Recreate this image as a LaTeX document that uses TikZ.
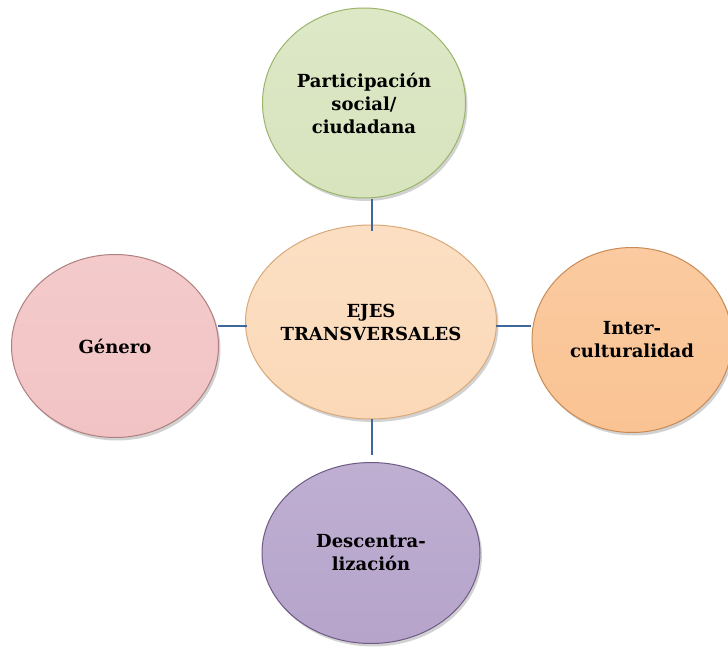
\documentclass[tikz,border=0pt]{standalone}
\usepackage{fontspec}
\setmainfont{DejaVu Serif}
\usetikzlibrary{shapes.geometric,shadows}
\definecolor{gfill}{HTML}{D7E4BD}
\definecolor{gdraw}{HTML}{9BB56A}
\definecolor{cfill}{HTML}{FBD9B8}
\definecolor{cdraw}{HTML}{D9A97A}
\definecolor{pfill}{HTML}{F2C3C4}
\definecolor{pdraw}{HTML}{B07F80}
\definecolor{ofill}{HTML}{FAC393}
\definecolor{odraw}{HTML}{C98B55}
\definecolor{vfill}{HTML}{B6A4CB}
\definecolor{vdraw}{HTML}{6E5A86}
\definecolor{link}{HTML}{3E6899}
\tikzset{
  bubble/.style={ellipse, line width=1pt, inner sep=0pt,
    drop shadow={opacity=0.35, shadow xshift=2pt, shadow yshift=-3pt}},
  btext/.style={align=center, inner sep=0pt,
    font=\bfseries\fontsize{18}{23}\selectfont},
  linkline/.style={draw=link, line width=1.6pt}
}
\begin{document}
\begin{tikzpicture}[x=1pt,y=-1pt]
\useasboundingbox[fill=white] (0,0) rectangle (728,647);
\node[bubble, draw=gdraw, top color=gfill!85!white, bottom color=gfill,
  minimum width=203pt, minimum height=190pt] (top) at (364,103) {};
\node[btext] (toptext) at (top.center) {Participación\\social/\\ciudadana};
\node[bubble, draw=cdraw, top color=cfill!85!white, bottom color=cfill,
  minimum width=251pt, minimum height=194pt] (mid) at (371,322) {};
\node[btext] (midtext) at (mid.center) {EJES\\TRANSVERSALES};
\node[bubble, draw=pdraw, top color=pfill!88!white, bottom color=pfill,
  minimum width=207pt, minimum height=183pt] (left) at (115,346) {};
\node[btext] (lefttext) at (left.center) {Género};
\node[bubble, draw=odraw, top color=ofill!88!white, bottom color=ofill,
  minimum width=200pt, minimum height=185pt] (right) at (632,340) {};
\node[btext] (righttext) at (right.center) {Inter-\\culturalidad};
\node[bubble, draw=vdraw, top color=vfill!88!white, bottom color=vfill,
  minimum width=218pt, minimum height=181pt] (bot) at (371,553) {};
\node[btext] (bottext) at (bot.center) {Descentra-\\lización};
\draw[linkline] (372,199) coordinate (t1) -- (372,231) coordinate (t2);
\draw[linkline] (218,326) coordinate (l1) -- (247,326) coordinate (l2);
\draw[linkline] (496,326) coordinate (r1) -- (531,326) coordinate (r2);
\draw[linkline] (372,419) coordinate (b1) -- (372,455) coordinate (b2);
\end{tikzpicture}
\end{document}
